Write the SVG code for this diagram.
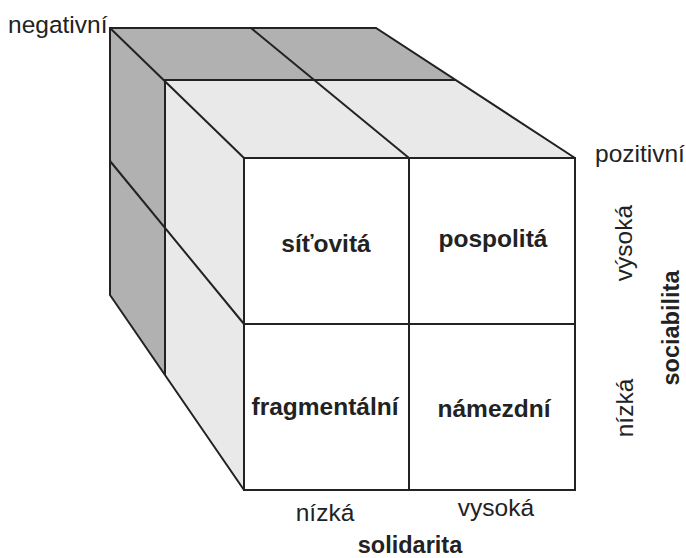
<svg xmlns="http://www.w3.org/2000/svg" width="686" height="558" viewBox="0 0 686 558">
<style>
.ln{fill:none;stroke:#222;stroke-width:2;stroke-linejoin:miter}
.dark{fill:#b1b1b1}
.light{fill:#e9e9e9}
.face{fill:#fff}
.t{font-family:"Liberation Sans",Arial,sans-serif;font-size:24.5px;fill:#222}
.b{font-weight:bold;text-anchor:middle}
.ax{font-size:23.5px}
</style>
<g id="cube">
<polygon class="dark" points="110,28 376,28 456,80 165,80 165,375 110,295"/>
<polygon class="light" points="165,80 456,80 575,158 244,158 244,490 165,375"/>
<rect class="face" x="244" y="158" width="331" height="332"/>
</g>
<g id="edges">
<polyline class="ln" points="244,490 110,295 110,28 376,28 575,158"/>
<line class="ln" x1="110" y1="28" x2="244" y2="158"/>
<line class="ln" x1="251" y1="28" x2="409" y2="158"/>
<line class="ln" x1="110" y1="161" x2="244" y2="324"/>
<polyline class="ln" points="165,375 165,80 456,80"/>
<rect class="ln" x="244" y="158" width="331" height="332"/>
<line class="ln" x1="409" y1="158" x2="409" y2="490"/>
<line class="ln" x1="244" y1="324" x2="575" y2="324"/>
</g>
<g id="cell-sitovita"><text class="t b" x="326" y="252">síťovitá</text></g>
<g id="cell-pospolita"><text class="t b" x="493" y="247">pospolitá</text></g>
<g id="cell-fragmentalni"><text class="t b" x="325" y="415">fragmentální</text></g>
<g id="cell-namezdni"><text class="t b" x="494" y="417">námezdní</text></g>
<g id="labels">
<text class="t" x="8" y="33">negativní</text>
<text class="t" x="595" y="162">pozitivní</text>
<text class="t" x="325" y="521" text-anchor="middle">nízká</text>
<text class="t" x="496" y="516" text-anchor="middle">vysoká</text>
<text class="t b ax" x="410" y="553">solidarita</text>
<text class="t" transform="translate(632,243) rotate(-90)" text-anchor="middle">výsoká</text>
<text class="t" transform="translate(633,408) rotate(-90)" text-anchor="middle">nízká</text>
<text class="t b ax" transform="translate(679,328) rotate(-90)">sociabilita</text>
</g>
</svg>
